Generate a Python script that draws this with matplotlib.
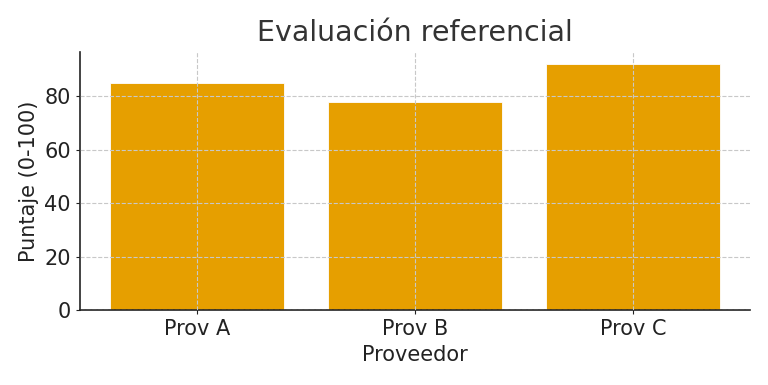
import matplotlib.pyplot as plt

proveedores = ['Prov A', 'Prov B', 'Prov C']
puntajes = [85, 78, 92]

fig = plt.figure(figsize=(7.68, 3.85), dpi=100)
ax = fig.add_axes([0.104, 0.195, 0.873, 0.67])

ax.bar(proveedores, puntajes, width=0.8, color='#E69F00', edgecolor='white', linewidth=0.6)

ax.set_title('Evaluación referencial', fontsize=20.5, color='#333333', pad=8)
ax.set_xlabel('Proveedor', fontsize=15, color='#222222', labelpad=4)
ax.set_ylabel('Puntaje (0-100)', fontsize=15, color='#222222')
ax.tick_params(labelsize=15, colors='#222222', length=3)
ax.set_yticks([0, 20, 40, 60, 80])

ax.grid(True, linestyle='--', color='#c8c8c8', linewidth=0.8)
ax.set_axisbelow(False)
for s in ['top', 'right']:
    ax.spines[s].set_visible(False)
for s in ['left', 'bottom']:
    ax.spines[s].set_linewidth(1.2)
    ax.spines[s].set_color('#222222')

fig.savefig('out.png', dpi=100)
